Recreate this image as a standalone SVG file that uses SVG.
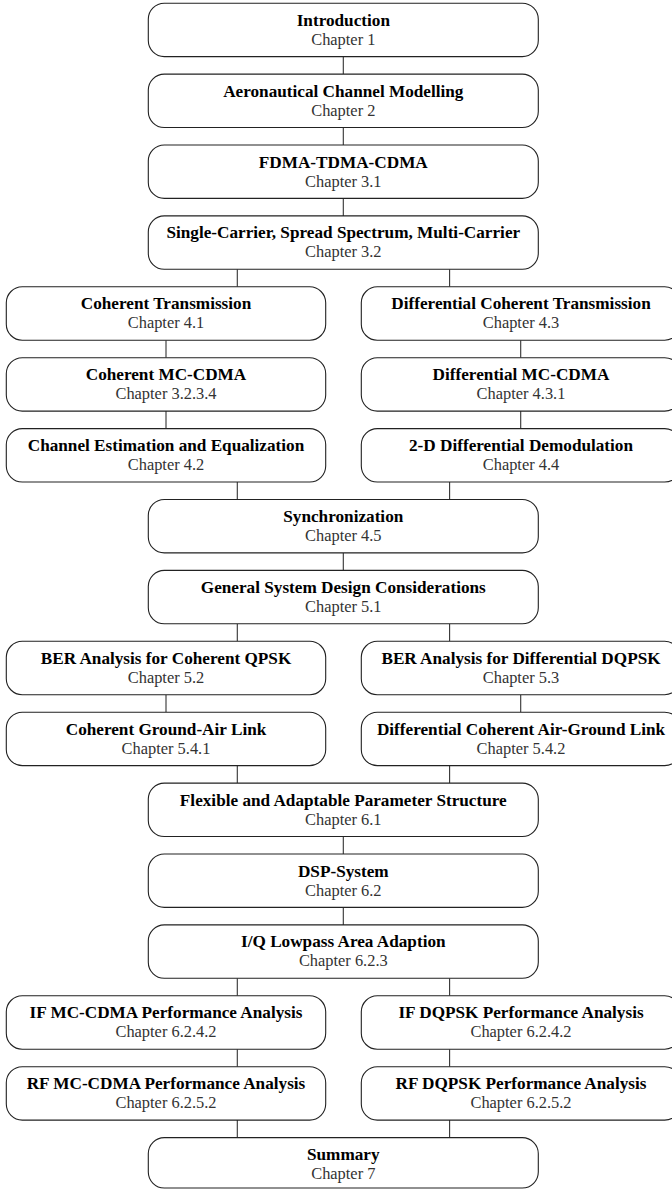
<svg xmlns="http://www.w3.org/2000/svg" width="672" height="1189" viewBox="0 0 672 1189">
<style>
.box{fill:#fff;stroke:#222;stroke-width:1.1}
.t{font-family:"Liberation Serif",serif;font-weight:bold;font-size:17.2px;fill:#000;text-anchor:middle}
.c{font-family:"Liberation Serif",serif;font-size:16.4px;fill:#333;text-anchor:middle}
.ln{stroke:#333;stroke-width:1.1;fill:none}
</style>
<rect width="672" height="1189" fill="#fff"/>
<g id="connectors" class="ln">
<line x1="343.3" y1="56.6" x2="343.3" y2="74.1"/>
<line x1="343.3" y1="127.5" x2="343.3" y2="145"/>
<line x1="343.3" y1="198.4" x2="343.3" y2="215.9"/>
<line x1="237.3" y1="269.3" x2="237.3" y2="286.8"/>
<line x1="449.6" y1="269.3" x2="449.6" y2="286.8"/>
<line x1="166" y1="340.2" x2="166" y2="357.7"/>
<line x1="520.7" y1="340.2" x2="520.7" y2="357.7"/>
<line x1="166" y1="411.1" x2="166" y2="428.6"/>
<line x1="520.7" y1="411.1" x2="520.7" y2="428.6"/>
<line x1="237.3" y1="482" x2="237.3" y2="499.5"/>
<line x1="449.6" y1="482" x2="449.6" y2="499.5"/>
<line x1="343.3" y1="552.9" x2="343.3" y2="570.4"/>
<line x1="237.3" y1="623.8" x2="237.3" y2="641.3"/>
<line x1="449.6" y1="623.8" x2="449.6" y2="641.3"/>
<line x1="166" y1="694.7" x2="166" y2="712.2"/>
<line x1="520.7" y1="694.7" x2="520.7" y2="712.2"/>
<line x1="237.3" y1="765.6" x2="237.3" y2="783.1"/>
<line x1="449.6" y1="765.6" x2="449.6" y2="783.1"/>
<line x1="343.3" y1="836.5" x2="343.3" y2="854"/>
<line x1="343.3" y1="907.4" x2="343.3" y2="924.9"/>
<line x1="237.3" y1="978.3" x2="237.3" y2="995.8"/>
<line x1="449.6" y1="978.3" x2="449.6" y2="995.8"/>
<line x1="237.3" y1="1049.2" x2="237.3" y2="1066.7"/>
<line x1="449.6" y1="1049.2" x2="449.6" y2="1066.7"/>
<line x1="237.3" y1="1120.1" x2="237.3" y2="1137.6"/>
<line x1="449.6" y1="1120.1" x2="449.6" y2="1137.6"/>
</g>
<g id="n1"><rect class="box" x="148.3" y="3.2" width="390" height="53.4" rx="16"/><text class="t" x="343.3" y="25.7">Introduction</text><text class="c" x="343.3" y="44.7">Chapter 1</text></g>
<g id="n2"><rect class="box" x="148.3" y="74.1" width="390" height="53.4" rx="16"/><text class="t" x="343.3" y="96.6">Aeronautical Channel Modelling</text><text class="c" x="343.3" y="115.6">Chapter 2</text></g>
<g id="n3"><rect class="box" x="148.3" y="145" width="390" height="53.4" rx="16"/><text class="t" x="343.3" y="167.5">FDMA-TDMA-CDMA</text><text class="c" x="343.3" y="186.5">Chapter 3.1</text></g>
<g id="n4"><rect class="box" x="148.3" y="215.9" width="390" height="53.4" rx="16"/><text class="t" x="343.3" y="238.4">Single-Carrier, Spread Spectrum, Multi-Carrier</text><text class="c" x="343.3" y="257.4">Chapter 3.2</text></g>
<g id="n5a"><rect class="box" x="6.3" y="286.8" width="319.4" height="53.4" rx="16"/><text class="t" x="166" y="309.3">Coherent Transmission</text><text class="c" x="166" y="328.3">Chapter 4.1</text></g>
<g id="n5b"><rect class="box" x="361.3" y="286.8" width="319.4" height="53.4" rx="16"/><text class="t" x="521" y="309.3">Differential Coherent Transmission</text><text class="c" x="521" y="328.3">Chapter 4.3</text></g>
<g id="n6a"><rect class="box" x="6.3" y="357.7" width="319.4" height="53.4" rx="16"/><text class="t" x="166" y="380.2">Coherent MC-CDMA</text><text class="c" x="166" y="399.2">Chapter 3.2.3.4</text></g>
<g id="n6b"><rect class="box" x="361.3" y="357.7" width="319.4" height="53.4" rx="16"/><text class="t" x="521" y="380.2">Differential MC-CDMA</text><text class="c" x="521" y="399.2">Chapter 4.3.1</text></g>
<g id="n7a"><rect class="box" x="6.3" y="428.6" width="319.4" height="53.4" rx="16"/><text class="t" x="166" y="451.1">Channel Estimation and Equalization</text><text class="c" x="166" y="470.1">Chapter 4.2</text></g>
<g id="n7b"><rect class="box" x="361.3" y="428.6" width="319.4" height="53.4" rx="16"/><text class="t" x="521" y="451.1">2-D Differential Demodulation</text><text class="c" x="521" y="470.1">Chapter 4.4</text></g>
<g id="n8"><rect class="box" x="148.3" y="499.5" width="390" height="53.4" rx="16"/><text class="t" x="343.3" y="522">Synchronization</text><text class="c" x="343.3" y="541">Chapter 4.5</text></g>
<g id="n9"><rect class="box" x="148.3" y="570.4" width="390" height="53.4" rx="16"/><text class="t" x="343.3" y="592.9">General System Design Considerations</text><text class="c" x="343.3" y="611.9">Chapter 5.1</text></g>
<g id="n10a"><rect class="box" x="6.3" y="641.3" width="319.4" height="53.4" rx="16"/><text class="t" x="166" y="663.8">BER Analysis for Coherent QPSK</text><text class="c" x="166" y="682.8">Chapter 5.2</text></g>
<g id="n10b"><rect class="box" x="361.3" y="641.3" width="319.4" height="53.4" rx="16"/><text class="t" x="521" y="663.8">BER Analysis for Differential DQPSK</text><text class="c" x="521" y="682.8">Chapter 5.3</text></g>
<g id="n11a"><rect class="box" x="6.3" y="712.2" width="319.4" height="53.4" rx="16"/><text class="t" x="166" y="734.7">Coherent Ground-Air Link</text><text class="c" x="166" y="753.7">Chapter 5.4.1</text></g>
<g id="n11b"><rect class="box" x="361.3" y="712.2" width="319.4" height="53.4" rx="16"/><text class="t" x="521" y="734.7">Differential Coherent Air-Ground Link</text><text class="c" x="521" y="753.7">Chapter 5.4.2</text></g>
<g id="n12"><rect class="box" x="148.3" y="783.1" width="390" height="53.4" rx="16"/><text class="t" x="343.3" y="805.6">Flexible and Adaptable Parameter Structure</text><text class="c" x="343.3" y="824.6">Chapter 6.1</text></g>
<g id="n13"><rect class="box" x="148.3" y="854" width="390" height="53.4" rx="16"/><text class="t" x="343.3" y="876.5">DSP-System</text><text class="c" x="343.3" y="895.5">Chapter 6.2</text></g>
<g id="n14"><rect class="box" x="148.3" y="924.9" width="390" height="53.4" rx="16"/><text class="t" x="343.3" y="947.4">I/Q Lowpass Area Adaption</text><text class="c" x="343.3" y="966.4">Chapter 6.2.3</text></g>
<g id="n15a"><rect class="box" x="6.3" y="995.8" width="319.4" height="53.4" rx="16"/><text class="t" x="166" y="1018.3">IF MC-CDMA Performance Analysis</text><text class="c" x="166" y="1037.3">Chapter 6.2.4.2</text></g>
<g id="n15b"><rect class="box" x="361.3" y="995.8" width="319.4" height="53.4" rx="16"/><text class="t" x="521" y="1018.3">IF DQPSK Performance Analysis</text><text class="c" x="521" y="1037.3">Chapter 6.2.4.2</text></g>
<g id="n16a"><rect class="box" x="6.3" y="1066.7" width="319.4" height="53.4" rx="16"/><text class="t" x="166" y="1089.2">RF MC-CDMA Performance Analysis</text><text class="c" x="166" y="1108.2">Chapter 6.2.5.2</text></g>
<g id="n16b"><rect class="box" x="361.3" y="1066.7" width="319.4" height="53.4" rx="16"/><text class="t" x="521" y="1089.2">RF DQPSK Performance Analysis</text><text class="c" x="521" y="1108.2">Chapter 6.2.5.2</text></g>
<g id="n17"><rect class="box" x="148.3" y="1137.6" width="390" height="50.4" rx="16"/><text class="t" x="343.3" y="1160.1">Summary</text><text class="c" x="343.3" y="1179.1">Chapter 7</text></g>
</svg>
